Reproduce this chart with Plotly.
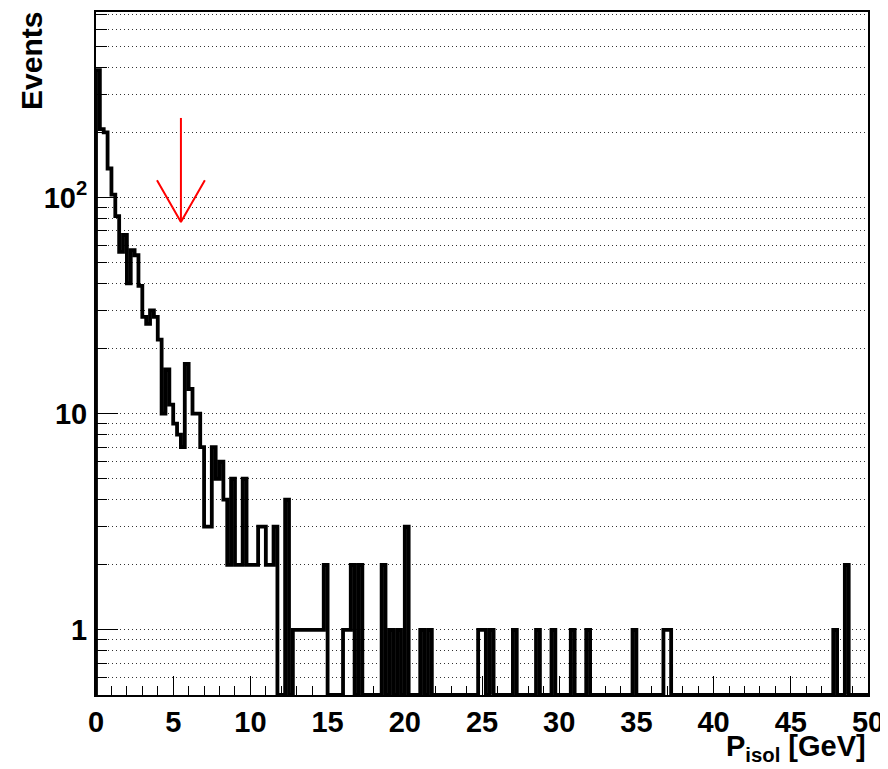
import numpy as np
import plotly.graph_objects as go

# ---------------- data ----------------
BIN_LO, BIN_HI, NBINS = 0.0, 50.0, 200
counts = [
    388, 207, 200, 136, 103, 82, 56, 67, 40, 57, 54, 39, 28, 26, 30, 28, 22, 10, 16, 11,
    9, 8, 7, 17, 13, 10, 10, 7, 3, 3, 7, 5, 6, 4, 2, 5, 2, 2, 5, 2,
    2, 2, 3, 3, 2, 2, 3, 0, 0, 4, 0, 1, 1, 1, 1, 1, 1, 1, 1, 2,
    0, 0, 0, 0, 1, 1, 2, 0, 2, 0, 0, 0, 0, 0, 2, 0, 1, 0, 1, 0,
    3, 0, 0, 0, 1, 0, 1, 0, 0, 0, 0, 0, 0, 0, 0, 0, 0, 0, 0, 1,
    1, 0, 1, 0, 0, 0, 0, 0, 1, 0, 0, 0, 0, 0, 1, 0, 0, 0, 1, 0,
    0, 0, 0, 1, 0, 0, 0, 1, 0, 0, 0, 0, 0, 0, 0, 0, 0, 0, 0, 1,
    0, 0, 0, 0, 0, 0, 0, 1, 1, 0, 0, 0, 0, 0, 0, 0, 0, 0, 0, 0,
    0, 0, 0, 0, 0, 0, 0, 0, 0, 0, 0, 0, 0, 0, 0, 0, 0, 0, 0, 0,
    0, 0, 0, 0, 0, 0, 0, 0, 0, 0, 0, 1, 0, 0, 2, 0, 0, 0, 0, 0,
]
x_tick_vals = [0, 5, 10, 15, 20, 25, 30, 35, 40, 45, 50]
y_tick_vals = [1, 10, 100]
y_tick_text = ["1", "10", "10<sup>2</sup>"]
y_minor_vals = [m * d for d in (0.1, 1, 10, 100) for m in range(2, 10)]
cut_value = 5.5                      # position of the red arrow (GeV)
arrow_top, arrow_tip, arrow_wing = 233, 77, 120
arrow_half_width = 1.55

Y_MIN, Y_MAX = 0.5, 720.0

# ---------------- figure ----------------
edges = np.linspace(BIN_LO, BIN_HI, NBINS + 1)
vals = [max(c, Y_MIN) for c in counts]
xs = [edges[0]] + list(edges) + [edges[-1]]
ys = [Y_MIN] + vals + [vals[-1], Y_MIN]

fig = go.Figure()
fig.add_trace(go.Scatter(
    x=xs, y=ys, mode="lines", line=dict(shape="hv", color="black", width=3.8),
    showlegend=False, hoverinfo="skip"))

fig.add_trace(go.Scatter(
    x=[cut_value, cut_value, None, cut_value - arrow_half_width, cut_value, cut_value + arrow_half_width],
    y=[arrow_top, arrow_tip, None, arrow_wing, arrow_tip, arrow_wing],
    mode="lines", line=dict(color="#ff0000", width=2), showlegend=False, hoverinfo="skip"))

FONT = "Liberation Sans"
PAGE_OFF = 8                      # default body margin of the html page
W, H = 888 - PAGE_OFF, 769 - PAGE_OFF
L, T = 96 - PAGE_OFF, 12 - PAGE_OFF
R, B = 888 - 868, 769 - 695
pw, ph = W - L - R, H - T - B

def px2paper(px, py):
    """page pixel -> paper coords"""
    fx, fy = px - PAGE_OFF, py - PAGE_OFF
    return (fx - L) / pw, (H - B - fy) / ph

fig.update_layout(
    width=W, height=H,
    margin=dict(l=L, r=R, t=T, b=B, pad=0, autoexpand=False),
    paper_bgcolor="white", plot_bgcolor="white",
    font=dict(family=FONT, color="black"),
)
fig.update_xaxes(
    automargin=False,
    range=[BIN_LO, BIN_HI], showgrid=False, zeroline=False,
    showline=True, linecolor="black", linewidth=2, mirror=True,
    tickmode="array", tickvals=x_tick_vals,
    ticks="inside", ticklen=19, tickwidth=1.3, tickcolor="black",
    minor=dict(dtick=1, ticks="inside", ticklen=9, tickwidth=1.3, tickcolor="black", showgrid=False),
    tickfont=dict(family=FONT, size=29, weight="bold", color="black"),
    ticklabelstandoff=0,
)
fig.update_yaxes(
    automargin=False,
    type="log", range=[np.log10(Y_MIN), np.log10(Y_MAX)], zeroline=False,
    showline=True, linecolor="black", linewidth=2, mirror=True,
    tickmode="array", tickvals=y_tick_vals, ticktext=y_tick_text,
    ticks="inside", ticklen=22, tickwidth=1.3, tickcolor="black",
    showgrid=True, gridcolor="#333333", griddash="1px,3px", gridwidth=1,
    minor=dict(tickmode="array", tickvals=y_minor_vals, ticks="inside", ticklen=11,
               tickwidth=1.3, tickcolor="black",
               showgrid=True, gridcolor="#333333", griddash="1px,3px", gridwidth=1),
    tickfont=dict(family=FONT, size=29, weight="bold", color="black"),
    ticklabelstandoff=1,
)

ax, ay = px2paper(31, 61)
fig.add_annotation(text="Events", textangle=-90, xref="paper", yref="paper",
                   x=ax, y=ay, xanchor="center", yanchor="middle", showarrow=False,
                   font=dict(family=FONT, size=30, weight="bold", color="black"))
tx, ty = px2paper(868, 748)
fig.add_annotation(text="P<sub>isol</sub> [GeV]", xref="paper", yref="paper",
                   x=1.0, y=ty, xanchor="right", yanchor="middle", showarrow=False,
                   font=dict(family=FONT, size=29, weight="bold", color="black"))

fig.write_html("out.html")
